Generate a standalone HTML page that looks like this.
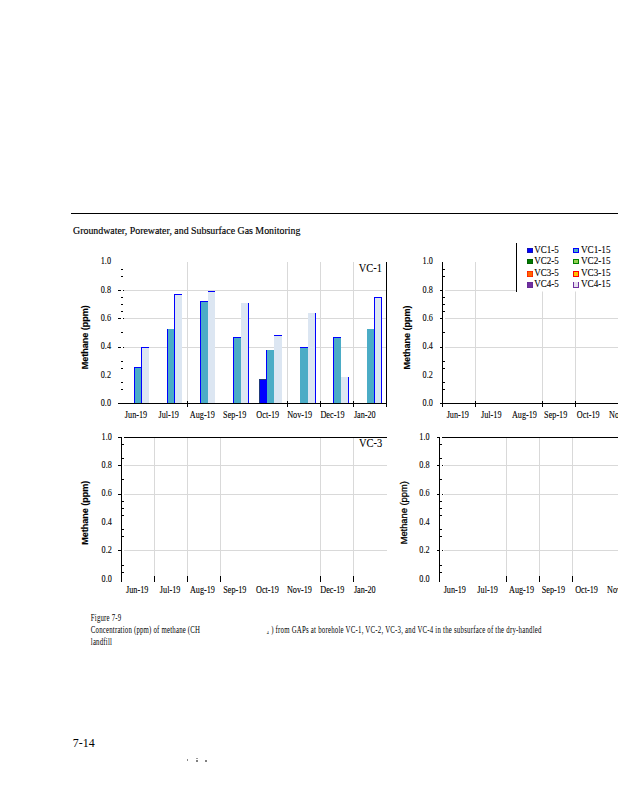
<!DOCTYPE html>
<html><head><meta charset="utf-8"><style>
html,body{margin:0;padding:0;background:#fff;}
body{width:618px;height:800px;overflow:hidden;font-family:"Liberation Serif",serif;}
svg{display:block;}
</style></head><body>
<svg width="618" height="800" viewBox="0 0 618 800">
<rect x="0" y="0" width="618" height="800" fill="#fff"/>
<rect x="71" y="213" width="547" height="1" fill="#000000"/>
<text x="0" y="0" font-family="Liberation Serif" font-size="10" font-weight="normal" text-anchor="start" transform="translate(73,233.6) scale(0.99,1)" stroke="#000" stroke-width="0.15">Groundwater, Porewater, and Subsurface Gas Monitoring</text>
<rect x="124" y="290" width="262" height="1" fill="#D9D9D9"/>
<rect x="124" y="318" width="262" height="1" fill="#D9D9D9"/>
<rect x="124" y="347" width="262" height="1" fill="#D9D9D9"/>
<rect x="187" y="262" width="1" height="141" fill="#D9D9D9"/>
<rect x="287" y="262" width="1" height="141" fill="#D9D9D9"/>
<rect x="320" y="262" width="1" height="141" fill="#D9D9D9"/>
<rect x="353" y="262" width="1" height="141" fill="#D9D9D9"/>
<rect x="134" y="367" width="7" height="36" fill="#4BACC6"/>
<rect x="134" y="367" width="1" height="36" fill="#0000FF"/>
<rect x="134" y="367" width="7" height="1" fill="#0000FF"/>
<rect x="141" y="347" width="8" height="56" fill="#DCE6F2"/>
<rect x="141" y="347" width="1" height="56" fill="#0000FF"/>
<rect x="141" y="347" width="8" height="1" fill="#0000FF"/>
<rect x="167" y="329" width="7" height="74" fill="#4BACC6"/>
<rect x="167" y="329" width="1" height="74" fill="#0000FF"/>
<rect x="174" y="294" width="8" height="109" fill="#DCE6F2"/>
<rect x="174" y="294" width="1" height="109" fill="#0000FF"/>
<rect x="174" y="294" width="8" height="1" fill="#0000FF"/>
<rect x="200" y="301" width="8" height="102" fill="#4BACC6"/>
<rect x="200" y="301" width="1" height="102" fill="#0000FF"/>
<rect x="200" y="301" width="8" height="1" fill="#0000FF"/>
<rect x="208" y="291" width="7" height="112" fill="#DCE6F2"/>
<rect x="208" y="291" width="7" height="1" fill="#0000FF"/>
<rect x="233" y="337" width="8" height="66" fill="#4BACC6"/>
<rect x="233" y="337" width="1" height="66" fill="#0000FF"/>
<rect x="233" y="337" width="8" height="1" fill="#0000FF"/>
<rect x="241" y="303" width="8" height="100" fill="#DCE6F2"/>
<rect x="248" y="303" width="1" height="100" fill="#0000FF"/>
<rect x="259" y="379" width="7" height="24" fill="#0000FF"/>
<rect x="259" y="379" width="1" height="24" fill="#1F3A7A"/>
<rect x="259" y="379" width="7" height="1" fill="#1F3A7A"/>
<rect x="266" y="350" width="8" height="53" fill="#4BACC6"/>
<rect x="266" y="350" width="1" height="53" fill="#0000FF"/>
<rect x="274" y="335" width="8" height="68" fill="#DCE6F2"/>
<rect x="274" y="335" width="8" height="1" fill="#0000FF"/>
<rect x="300" y="347" width="8" height="56" fill="#4BACC6"/>
<rect x="300" y="347" width="8" height="1" fill="#0000FF"/>
<rect x="308" y="313" width="8" height="90" fill="#DCE6F2"/>
<rect x="315" y="313" width="1" height="90" fill="#0000FF"/>
<rect x="333" y="337" width="8" height="66" fill="#4BACC6"/>
<rect x="333" y="337" width="1" height="66" fill="#0000FF"/>
<rect x="333" y="337" width="8" height="1" fill="#0000FF"/>
<rect x="341" y="377" width="8" height="26" fill="#DCE6F2"/>
<rect x="348" y="377" width="1" height="26" fill="#0000FF"/>
<rect x="367" y="329" width="7" height="74" fill="#4BACC6"/>
<rect x="374" y="297" width="8" height="106" fill="#DCE6F2"/>
<rect x="374" y="297" width="1" height="106" fill="#0000FF"/>
<rect x="381" y="297" width="1" height="106" fill="#0000FF"/>
<rect x="374" y="297" width="8" height="1" fill="#0000FF"/>
<rect x="118" y="403" width="269" height="1" fill="#000000"/>
<rect x="386" y="262" width="1" height="145" fill="#000000"/>
<rect x="187" y="401" width="1" height="6" fill="#000000"/>
<rect x="287" y="401" width="1" height="6" fill="#000000"/>
<rect x="320" y="401" width="1" height="6" fill="#000000"/>
<rect x="353" y="401" width="1" height="6" fill="#000000"/>
<rect x="118" y="290" width="3" height="1" fill="#000000"/>
<rect x="123" y="290" width="1" height="1" fill="#000000"/>
<rect x="118" y="318" width="3" height="1" fill="#000000"/>
<rect x="123" y="318" width="1" height="1" fill="#000000"/>
<rect x="118" y="347" width="3" height="1" fill="#000000"/>
<rect x="123" y="347" width="1" height="1" fill="#000000"/>
<rect x="121" y="269" width="2" height="1" fill="#000000"/>
<rect x="121" y="276" width="2" height="1" fill="#000000"/>
<rect x="121" y="297" width="2" height="1" fill="#000000"/>
<rect x="121" y="304" width="2" height="1" fill="#000000"/>
<rect x="121" y="311" width="2" height="1" fill="#000000"/>
<rect x="121" y="332" width="2" height="1" fill="#000000"/>
<rect x="121" y="361" width="2" height="1" fill="#000000"/>
<rect x="121" y="368" width="2" height="1" fill="#000000"/>
<rect x="121" y="382" width="2" height="1" fill="#000000"/>
<rect x="121" y="389" width="2" height="1" fill="#000000"/>
<text x="0" y="0" font-family="Liberation Serif" font-size="10" font-weight="normal" text-anchor="end" transform="translate(111,264.1) scale(0.82,1)" stroke="#000" stroke-width="0.1">1.0</text>
<text x="0" y="0" font-family="Liberation Serif" font-size="10" font-weight="normal" text-anchor="end" transform="translate(111,293.1) scale(0.82,1)" stroke="#000" stroke-width="0.1">0.8</text>
<text x="0" y="0" font-family="Liberation Serif" font-size="10" font-weight="normal" text-anchor="end" transform="translate(111,321.1) scale(0.82,1)" stroke="#000" stroke-width="0.1">0.6</text>
<text x="0" y="0" font-family="Liberation Serif" font-size="10" font-weight="normal" text-anchor="end" transform="translate(111,348.8) scale(0.82,1)" stroke="#000" stroke-width="0.1">0.4</text>
<text x="0" y="0" font-family="Liberation Serif" font-size="10" font-weight="normal" text-anchor="end" transform="translate(111,378.0) scale(0.82,1)" stroke="#000" stroke-width="0.1">0.2</text>
<text x="0" y="0" font-family="Liberation Serif" font-size="10" font-weight="normal" text-anchor="end" transform="translate(111,405.6) scale(0.82,1)" stroke="#000" stroke-width="0.1">0.0</text>
<text x="0" y="0" font-family="Liberation Serif" font-size="10" font-weight="normal" text-anchor="middle" transform="translate(136,417.6) scale(0.82,1)" stroke="#000" stroke-width="0.1">Jun-19</text>
<text x="0" y="0" font-family="Liberation Serif" font-size="10" font-weight="normal" text-anchor="middle" transform="translate(168.7,417.6) scale(0.82,1)" stroke="#000" stroke-width="0.1">Jul-19</text>
<text x="0" y="0" font-family="Liberation Serif" font-size="10" font-weight="normal" text-anchor="middle" transform="translate(202.3,417.6) scale(0.82,1)" stroke="#000" stroke-width="0.1">Aug-19</text>
<text x="0" y="0" font-family="Liberation Serif" font-size="10" font-weight="normal" text-anchor="middle" transform="translate(234.7,417.6) scale(0.82,1)" stroke="#000" stroke-width="0.1">Sep-19</text>
<text x="0" y="0" font-family="Liberation Serif" font-size="10" font-weight="normal" text-anchor="middle" transform="translate(267.7,417.6) scale(0.82,1)" stroke="#000" stroke-width="0.1">Oct-19</text>
<text x="0" y="0" font-family="Liberation Serif" font-size="10" font-weight="normal" text-anchor="middle" transform="translate(299.7,417.6) scale(0.82,1)" stroke="#000" stroke-width="0.1">Nov-19</text>
<text x="0" y="0" font-family="Liberation Serif" font-size="10" font-weight="normal" text-anchor="middle" transform="translate(332.5,417.6) scale(0.82,1)" stroke="#000" stroke-width="0.1">Dec-19</text>
<text x="0" y="0" font-family="Liberation Serif" font-size="10" font-weight="normal" text-anchor="middle" transform="translate(364.8,417.6) scale(0.82,1)" stroke="#000" stroke-width="0.1">Jan-20</text>
<text x="0" y="0" font-family="Liberation Serif" font-size="12" font-weight="normal" text-anchor="middle" transform="translate(370.3,271.8) scale(0.87,1)" stroke="#000" stroke-width="0.1">VC-1</text>
<text x="0" y="0" font-family="Liberation Sans" font-size="9" font-weight="bold" text-anchor="middle" stroke="#000" stroke-width="0.15" transform="translate(88.3,337.3) rotate(-90)">Methane (ppm)</text>
<rect x="445" y="290" width="173" height="1" fill="#D9D9D9"/>
<rect x="445" y="318" width="173" height="1" fill="#D9D9D9"/>
<rect x="445" y="347" width="173" height="1" fill="#D9D9D9"/>
<rect x="475" y="262" width="1" height="141" fill="#D9D9D9"/>
<rect x="542" y="262" width="1" height="141" fill="#D9D9D9"/>
<rect x="575" y="262" width="1" height="141" fill="#D9D9D9"/>
<rect x="440" y="403" width="178" height="1" fill="#000000"/>
<rect x="442" y="262" width="1" height="145" fill="#000000"/>
<rect x="475" y="401" width="1" height="6" fill="#000000"/>
<rect x="542" y="401" width="1" height="6" fill="#000000"/>
<rect x="575" y="401" width="1" height="6" fill="#000000"/>
<rect x="440" y="290" width="2" height="1" fill="#000000"/>
<rect x="440" y="318" width="2" height="1" fill="#000000"/>
<rect x="440" y="347" width="2" height="1" fill="#000000"/>
<rect x="443" y="269" width="2" height="1" fill="#000000"/>
<rect x="443" y="276" width="2" height="1" fill="#000000"/>
<rect x="443" y="297" width="2" height="1" fill="#000000"/>
<rect x="443" y="304" width="2" height="1" fill="#000000"/>
<rect x="443" y="311" width="2" height="1" fill="#000000"/>
<rect x="443" y="332" width="2" height="1" fill="#000000"/>
<rect x="443" y="361" width="2" height="1" fill="#000000"/>
<rect x="443" y="368" width="2" height="1" fill="#000000"/>
<rect x="443" y="382" width="2" height="1" fill="#000000"/>
<rect x="443" y="389" width="2" height="1" fill="#000000"/>
<text x="0" y="0" font-family="Liberation Serif" font-size="10" font-weight="normal" text-anchor="end" transform="translate(432.8,264.1) scale(0.82,1)" stroke="#000" stroke-width="0.1">1.0</text>
<text x="0" y="0" font-family="Liberation Serif" font-size="10" font-weight="normal" text-anchor="end" transform="translate(432.8,293.1) scale(0.82,1)" stroke="#000" stroke-width="0.1">0.8</text>
<text x="0" y="0" font-family="Liberation Serif" font-size="10" font-weight="normal" text-anchor="end" transform="translate(432.8,321.1) scale(0.82,1)" stroke="#000" stroke-width="0.1">0.6</text>
<text x="0" y="0" font-family="Liberation Serif" font-size="10" font-weight="normal" text-anchor="end" transform="translate(432.8,348.8) scale(0.82,1)" stroke="#000" stroke-width="0.1">0.4</text>
<text x="0" y="0" font-family="Liberation Serif" font-size="10" font-weight="normal" text-anchor="end" transform="translate(432.8,378.0) scale(0.82,1)" stroke="#000" stroke-width="0.1">0.2</text>
<text x="0" y="0" font-family="Liberation Serif" font-size="10" font-weight="normal" text-anchor="end" transform="translate(432.8,405.6) scale(0.82,1)" stroke="#000" stroke-width="0.1">0.0</text>
<text x="0" y="0" font-family="Liberation Serif" font-size="10" font-weight="normal" text-anchor="middle" transform="translate(457.8,417.6) scale(0.82,1)" stroke="#000" stroke-width="0.1">Jun-19</text>
<text x="0" y="0" font-family="Liberation Serif" font-size="10" font-weight="normal" text-anchor="middle" transform="translate(491.3,417.6) scale(0.82,1)" stroke="#000" stroke-width="0.1">Jul-19</text>
<text x="0" y="0" font-family="Liberation Serif" font-size="10" font-weight="normal" text-anchor="middle" transform="translate(524.4,417.6) scale(0.82,1)" stroke="#000" stroke-width="0.1">Aug-19</text>
<text x="0" y="0" font-family="Liberation Serif" font-size="10" font-weight="normal" text-anchor="middle" transform="translate(555.7,417.6) scale(0.82,1)" stroke="#000" stroke-width="0.1">Sep-19</text>
<text x="0" y="0" font-family="Liberation Serif" font-size="10" font-weight="normal" text-anchor="middle" transform="translate(588.2,417.6) scale(0.82,1)" stroke="#000" stroke-width="0.1">Oct-19</text>
<text x="0" y="0" font-family="Liberation Serif" font-size="10" font-weight="normal" text-anchor="middle" transform="translate(621.5,417.6) scale(0.82,1)" stroke="#000" stroke-width="0.1">Nov-19</text>
<text x="0" y="0" font-family="Liberation Sans" font-size="9" font-weight="bold" text-anchor="middle" stroke="#000" stroke-width="0.15" transform="translate(410,337.5) rotate(-90)">Methane (ppm)</text>
<rect x="517" y="230" width="101" height="61.5" fill="#fff"/>
<rect x="516" y="243" width="1" height="49" fill="#000000"/>
<rect x="527" y="248" width="6" height="5" fill="#202080"/>
<rect x="527.5" y="248.5" width="5" height="4" fill="#0000FF"/>
<text x="0" y="0" font-family="Liberation Serif" font-size="10" font-weight="normal" text-anchor="start" transform="translate(534.2,252.7) scale(0.9,1)" stroke="#000" stroke-width="0.1">VC1-5</text>
<rect x="573" y="248" width="6" height="5" fill="#0000FF"/>
<rect x="574" y="249" width="4" height="3" fill="#4BACC6"/>
<text x="0" y="0" font-family="Liberation Serif" font-size="10" font-weight="normal" text-anchor="start" transform="translate(581,252.7) scale(0.915,1)" stroke="#000" stroke-width="0.1">VC1-15</text>
<rect x="527" y="259" width="6" height="5" fill="#005000"/>
<rect x="527.5" y="259.5" width="5" height="4" fill="#007800"/>
<text x="0" y="0" font-family="Liberation Serif" font-size="10" font-weight="normal" text-anchor="start" transform="translate(534.2,263.9) scale(0.9,1)" stroke="#000" stroke-width="0.1">VC2-5</text>
<rect x="573" y="259" width="6" height="5" fill="#008000"/>
<rect x="574" y="260" width="4" height="3" fill="#92D050"/>
<text x="0" y="0" font-family="Liberation Serif" font-size="10" font-weight="normal" text-anchor="start" transform="translate(581,263.9) scale(0.915,1)" stroke="#000" stroke-width="0.1">VC2-15</text>
<rect x="527" y="271" width="6" height="6" fill="#FF0000"/>
<rect x="527.5" y="271.5" width="5" height="5" fill="#FF6600"/>
<text x="0" y="0" font-family="Liberation Serif" font-size="10" font-weight="normal" text-anchor="start" transform="translate(534.2,275.8) scale(0.9,1)" stroke="#000" stroke-width="0.1">VC3-5</text>
<rect x="573" y="271" width="6" height="6" fill="#FF0000"/>
<rect x="574" y="272" width="4" height="4" fill="#FFC000"/>
<text x="0" y="0" font-family="Liberation Serif" font-size="10" font-weight="normal" text-anchor="start" transform="translate(581,275.8) scale(0.915,1)" stroke="#000" stroke-width="0.1">VC3-15</text>
<rect x="527" y="282" width="6" height="6" fill="#602890"/>
<rect x="527.5" y="282.5" width="5" height="5" fill="#7030A0"/>
<text x="0" y="0" font-family="Liberation Serif" font-size="10" font-weight="normal" text-anchor="start" transform="translate(534.2,286.9) scale(0.9,1)" stroke="#000" stroke-width="0.1">VC4-5</text>
<rect x="573" y="282" width="6" height="6" fill="#7030A0"/>
<rect x="574" y="282" width="4" height="5" fill="#E6E0EE"/>
<text x="0" y="0" font-family="Liberation Serif" font-size="10" font-weight="normal" text-anchor="start" transform="translate(581,286.9) scale(0.915,1)" stroke="#000" stroke-width="0.1">VC4-15</text>
<rect x="124" y="465" width="263" height="1" fill="#D9D9D9"/>
<rect x="124" y="494" width="263" height="1" fill="#D9D9D9"/>
<rect x="124" y="550" width="263" height="1" fill="#D9D9D9"/>
<rect x="154" y="438" width="1" height="138" fill="#D9D9D9"/>
<rect x="187" y="438" width="1" height="138" fill="#D9D9D9"/>
<rect x="220" y="438" width="1" height="138" fill="#D9D9D9"/>
<rect x="320" y="438" width="1" height="138" fill="#D9D9D9"/>
<rect x="353" y="438" width="1" height="138" fill="#D9D9D9"/>
<rect x="124" y="437" width="263" height="1" fill="#000000"/>
<rect x="121" y="437" width="1" height="145" fill="#000000"/>
<rect x="154" y="576" width="1" height="6" fill="#000000"/>
<rect x="187" y="576" width="1" height="6" fill="#000000"/>
<rect x="220" y="576" width="1" height="6" fill="#000000"/>
<rect x="320" y="576" width="1" height="6" fill="#000000"/>
<rect x="353" y="576" width="1" height="6" fill="#000000"/>
<rect x="118" y="437" width="3" height="1" fill="#000000"/>
<rect x="118" y="465" width="3" height="1" fill="#000000"/>
<rect x="118" y="494" width="3" height="1" fill="#000000"/>
<rect x="118" y="550" width="3" height="1" fill="#000000"/>
<rect x="122" y="444" width="2" height="1" fill="#000000"/>
<rect x="122" y="458" width="2" height="1" fill="#000000"/>
<rect x="122" y="479" width="2" height="1" fill="#000000"/>
<rect x="122" y="501" width="2" height="1" fill="#000000"/>
<rect x="122" y="508" width="2" height="1" fill="#000000"/>
<rect x="122" y="515" width="2" height="1" fill="#000000"/>
<rect x="122" y="529" width="2" height="1" fill="#000000"/>
<rect x="122" y="536" width="2" height="1" fill="#000000"/>
<rect x="122" y="565" width="2" height="1" fill="#000000"/>
<rect x="122" y="572" width="2" height="1" fill="#000000"/>
<text x="0" y="0" font-family="Liberation Serif" font-size="10" font-weight="normal" text-anchor="end" transform="translate(111.8,440.1) scale(0.82,1)" stroke="#000" stroke-width="0.1">1.0</text>
<text x="0" y="0" font-family="Liberation Serif" font-size="10" font-weight="normal" text-anchor="end" transform="translate(111.8,467.6) scale(0.82,1)" stroke="#000" stroke-width="0.1">0.8</text>
<text x="0" y="0" font-family="Liberation Serif" font-size="10" font-weight="normal" text-anchor="end" transform="translate(111.8,496.2) scale(0.82,1)" stroke="#000" stroke-width="0.1">0.6</text>
<text x="0" y="0" font-family="Liberation Serif" font-size="10" font-weight="normal" text-anchor="end" transform="translate(111.8,525.3) scale(0.82,1)" stroke="#000" stroke-width="0.1">0.4</text>
<text x="0" y="0" font-family="Liberation Serif" font-size="10" font-weight="normal" text-anchor="end" transform="translate(111.8,553.3) scale(0.82,1)" stroke="#000" stroke-width="0.1">0.2</text>
<text x="0" y="0" font-family="Liberation Serif" font-size="10" font-weight="normal" text-anchor="end" transform="translate(111.8,582.0999999999999) scale(0.82,1)" stroke="#000" stroke-width="0.1">0.0</text>
<text x="0" y="0" font-family="Liberation Serif" font-size="10" font-weight="normal" text-anchor="middle" transform="translate(137.2,592.5) scale(0.82,1)" stroke="#000" stroke-width="0.1">Jun-19</text>
<text x="0" y="0" font-family="Liberation Serif" font-size="10" font-weight="normal" text-anchor="middle" transform="translate(170.1,592.5) scale(0.82,1)" stroke="#000" stroke-width="0.1">Jul-19</text>
<text x="0" y="0" font-family="Liberation Serif" font-size="10" font-weight="normal" text-anchor="middle" transform="translate(202.4,592.5) scale(0.82,1)" stroke="#000" stroke-width="0.1">Aug-19</text>
<text x="0" y="0" font-family="Liberation Serif" font-size="10" font-weight="normal" text-anchor="middle" transform="translate(234.8,592.5) scale(0.82,1)" stroke="#000" stroke-width="0.1">Sep-19</text>
<text x="0" y="0" font-family="Liberation Serif" font-size="10" font-weight="normal" text-anchor="middle" transform="translate(267.4,592.5) scale(0.82,1)" stroke="#000" stroke-width="0.1">Oct-19</text>
<text x="0" y="0" font-family="Liberation Serif" font-size="10" font-weight="normal" text-anchor="middle" transform="translate(299.4,592.5) scale(0.82,1)" stroke="#000" stroke-width="0.1">Nov-19</text>
<text x="0" y="0" font-family="Liberation Serif" font-size="10" font-weight="normal" text-anchor="middle" transform="translate(332.3,592.5) scale(0.82,1)" stroke="#000" stroke-width="0.1">Dec-19</text>
<text x="0" y="0" font-family="Liberation Serif" font-size="10" font-weight="normal" text-anchor="middle" transform="translate(364.8,592.5) scale(0.82,1)" stroke="#000" stroke-width="0.1">Jan-20</text>
<text x="0" y="0" font-family="Liberation Serif" font-size="12" font-weight="normal" text-anchor="middle" transform="translate(370.6,447) scale(0.87,1)" stroke="#000" stroke-width="0.1">VC-3</text>
<text x="0" y="0" font-family="Liberation Sans" font-size="9" font-weight="bold" text-anchor="middle" stroke="#000" stroke-width="0.15" transform="translate(88.3,512.8) rotate(-90)">Methane (ppm)</text>
<rect x="444" y="465" width="174" height="1" fill="#D9D9D9"/>
<rect x="442" y="465" width="1" height="1" fill="#000000"/>
<rect x="444" y="494" width="174" height="1" fill="#D9D9D9"/>
<rect x="442" y="494" width="1" height="1" fill="#000000"/>
<rect x="444" y="550" width="174" height="1" fill="#D9D9D9"/>
<rect x="442" y="550" width="1" height="1" fill="#000000"/>
<rect x="506" y="438" width="1" height="138" fill="#D9D9D9"/>
<rect x="539" y="438" width="1" height="138" fill="#D9D9D9"/>
<rect x="572" y="438" width="1" height="138" fill="#D9D9D9"/>
<rect x="442" y="437" width="176" height="1" fill="#000000"/>
<rect x="439" y="437" width="1" height="145" fill="#000000"/>
<rect x="506" y="576" width="1" height="6" fill="#000000"/>
<rect x="539" y="576" width="1" height="6" fill="#000000"/>
<rect x="572" y="576" width="1" height="6" fill="#000000"/>
<rect x="437" y="437" width="2" height="1" fill="#000000"/>
<rect x="437" y="465" width="2" height="1" fill="#000000"/>
<rect x="437" y="494" width="2" height="1" fill="#000000"/>
<rect x="437" y="550" width="2" height="1" fill="#000000"/>
<rect x="440" y="444" width="2" height="1" fill="#000000"/>
<rect x="440" y="458" width="2" height="1" fill="#000000"/>
<rect x="440" y="479" width="2" height="1" fill="#000000"/>
<rect x="440" y="501" width="2" height="1" fill="#000000"/>
<rect x="440" y="508" width="2" height="1" fill="#000000"/>
<rect x="440" y="515" width="2" height="1" fill="#000000"/>
<rect x="440" y="529" width="2" height="1" fill="#000000"/>
<rect x="440" y="536" width="2" height="1" fill="#000000"/>
<rect x="440" y="565" width="2" height="1" fill="#000000"/>
<rect x="440" y="572" width="2" height="1" fill="#000000"/>
<text x="0" y="0" font-family="Liberation Serif" font-size="10" font-weight="normal" text-anchor="end" transform="translate(429.6,440.1) scale(0.82,1)" stroke="#000" stroke-width="0.1">1.0</text>
<text x="0" y="0" font-family="Liberation Serif" font-size="10" font-weight="normal" text-anchor="end" transform="translate(429.6,467.6) scale(0.82,1)" stroke="#000" stroke-width="0.1">0.8</text>
<text x="0" y="0" font-family="Liberation Serif" font-size="10" font-weight="normal" text-anchor="end" transform="translate(429.6,496.2) scale(0.82,1)" stroke="#000" stroke-width="0.1">0.6</text>
<text x="0" y="0" font-family="Liberation Serif" font-size="10" font-weight="normal" text-anchor="end" transform="translate(429.6,525.3) scale(0.82,1)" stroke="#000" stroke-width="0.1">0.4</text>
<text x="0" y="0" font-family="Liberation Serif" font-size="10" font-weight="normal" text-anchor="end" transform="translate(429.6,553.3) scale(0.82,1)" stroke="#000" stroke-width="0.1">0.2</text>
<text x="0" y="0" font-family="Liberation Serif" font-size="10" font-weight="normal" text-anchor="end" transform="translate(429.6,582.0999999999999) scale(0.82,1)" stroke="#000" stroke-width="0.1">0.0</text>
<text x="0" y="0" font-family="Liberation Serif" font-size="10" font-weight="normal" text-anchor="middle" transform="translate(454.8,592.5) scale(0.82,1)" stroke="#000" stroke-width="0.1">Jun-19</text>
<text x="0" y="0" font-family="Liberation Serif" font-size="10" font-weight="normal" text-anchor="middle" transform="translate(487.6,592.5) scale(0.82,1)" stroke="#000" stroke-width="0.1">Jul-19</text>
<text x="0" y="0" font-family="Liberation Serif" font-size="10" font-weight="normal" text-anchor="middle" transform="translate(521.5,592.5) scale(0.82,1)" stroke="#000" stroke-width="0.1">Aug-19</text>
<text x="0" y="0" font-family="Liberation Serif" font-size="10" font-weight="normal" text-anchor="middle" transform="translate(553.4,592.5) scale(0.82,1)" stroke="#000" stroke-width="0.1">Sep-19</text>
<text x="0" y="0" font-family="Liberation Serif" font-size="10" font-weight="normal" text-anchor="middle" transform="translate(586.5,592.5) scale(0.82,1)" stroke="#000" stroke-width="0.1">Oct-19</text>
<text x="0" y="0" font-family="Liberation Serif" font-size="10" font-weight="normal" text-anchor="middle" transform="translate(619.5,592.5) scale(0.82,1)" stroke="#000" stroke-width="0.1">Nov-19</text>
<text x="0" y="0" font-family="Liberation Sans" font-size="9.3" font-weight="normal" text-anchor="middle" stroke="#000" stroke-width="0.3" transform="translate(407.3,512.8) rotate(-90)">Methane (ppm)</text>
<text x="0" y="0" font-family="Liberation Serif" font-size="9.5" letter-spacing="0.27" transform="translate(90.8,621.1) scale(0.72,1)">Figure 7-9</text>
<text x="0" y="0" font-family="Liberation Serif" font-size="9.5" letter-spacing="0.27" transform="translate(90.8,633.3) scale(0.72,1)">Concentration (ppm) of methane (CH</text>
<text x="0" y="0" font-family="Liberation Serif" font-size="5" transform="translate(266.8,633.6) scale(0.8,1)">4</text>
<text x="0" y="0" font-family="Liberation Serif" font-size="9.5" letter-spacing="0.305" transform="translate(271.2,633.3) scale(0.72,1)">) from GAPs at borehole VC-1, VC-2, VC-3, and VC-4 in the subsurface of the dry-handled</text>
<text x="0" y="0" font-family="Liberation Serif" font-size="9.5" letter-spacing="0.27" transform="translate(90.8,645.1) scale(0.72,1)">landfill</text>
<text x="0" y="0" font-family="Liberation Serif" font-size="13" transform="translate(72.8,746.9) scale(0.92,1.03)">7-14</text>
<rect x="187" y="759" width="1" height="2" fill="#8a8a8a"/>
<rect x="196" y="758" width="2" height="1" fill="#9a9a9a"/>
<rect x="196" y="760" width="2" height="2" fill="#808080"/>
<rect x="205" y="760" width="2" height="2" fill="#808080"/>
</svg>
</body></html>
